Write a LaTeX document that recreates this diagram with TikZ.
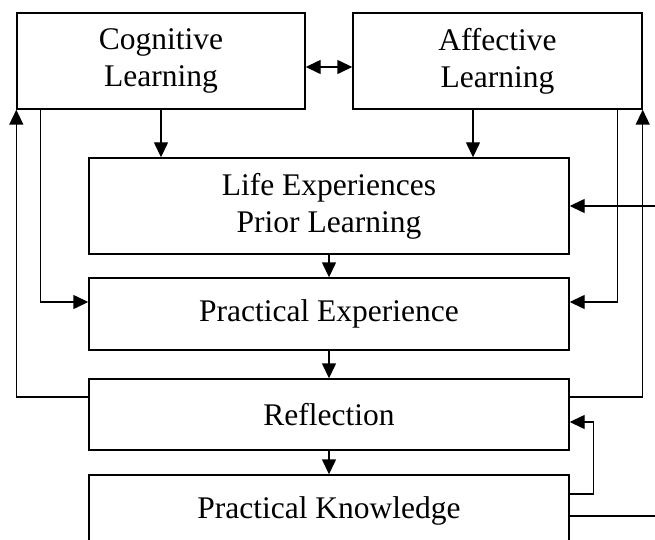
\documentclass[tikz,border=0pt]{standalone}
\usepackage{fontspec}
\setmainfont{Liberation Serif}
\usetikzlibrary{arrows.meta}
\begin{document}
\begin{tikzpicture}[x=1pt,y=1pt,
  box/.style={draw,line width=1.4pt,inner sep=0pt,align=center,font=\fontsize{31.5}{37}\selectfont},
  conn/.style={line width=1.4pt},
  arr/.style={conn,-{Triangle[length=15pt,width=14pt]}},
  darr/.style={conn,{Triangle[length=15pt,width=14pt]}-{Triangle[length=15pt,width=14pt]}}]
\useasboundingbox (0,0) rectangle (655,-540);
\clip (0,0) rectangle (655,-540);
\node[box,minimum width=288pt,minimum height=96pt] (cog) at (161,-61) {Cognitive\\Learning};
\node[box,minimum width=289pt,minimum height=96pt] (aff) at (497.5,-61) {Affective\\Learning};
\node[box,minimum width=480pt,minimum height=96pt] (life) at (329,-206) {Life Experiences\\Prior Learning};
\node[box,minimum width=480pt,minimum height=72pt] (pe) at (329,-314) {Practical Experience};
\node[box,minimum width=480pt,minimum height=71pt] (refl) at (329,-414.5) {Reflection};
\node[box,minimum width=480pt,minimum height=72pt] (pk) at (329,-511) {Practical Knowledge};
\coordinate (lin) at (660,-206);
\coordinate (pkout) at (660,-516);
% double arrow
\draw[darr] ([yshift=-6pt]cog.east) -- ([yshift=-6pt]aff.west);
% down arrows
\draw[arr] (cog.south) -- (cog.south |- life.north);
\draw[arr] ([xshift=-24.5pt]aff.south) -- ([xshift=-24.5pt]aff.south |- life.north);
\draw[arr] (life.south) -- (pe.north);
\draw[arr] (pe.south) -- (refl.north);
\draw[arr] (refl.south) -- (pk.north);
% side branches into PE
\draw[arr] ([xshift=24pt]cog.south west) |- ([yshift=12pt]pe.west);
\draw[arr] ([xshift=-25pt]aff.south east) |- ([yshift=12pt]pe.east);
% feedback from reflection
\draw[arr] ([yshift=17.5pt]refl.west) -| (cog.south west);
\draw[arr] ([yshift=17.5pt]refl.east) -| (aff.south east);
% external input to life
\draw[arr] (lin) -- (life.east);
% PK to reflection
\draw[arr] ([yshift=17pt]pk.east) -- ++(24,0) |- ([yshift=-7.5pt]refl.east);
\draw[conn] ([yshift=-5pt]pk.east) -- (pkout);
\end{tikzpicture}
\end{document}
